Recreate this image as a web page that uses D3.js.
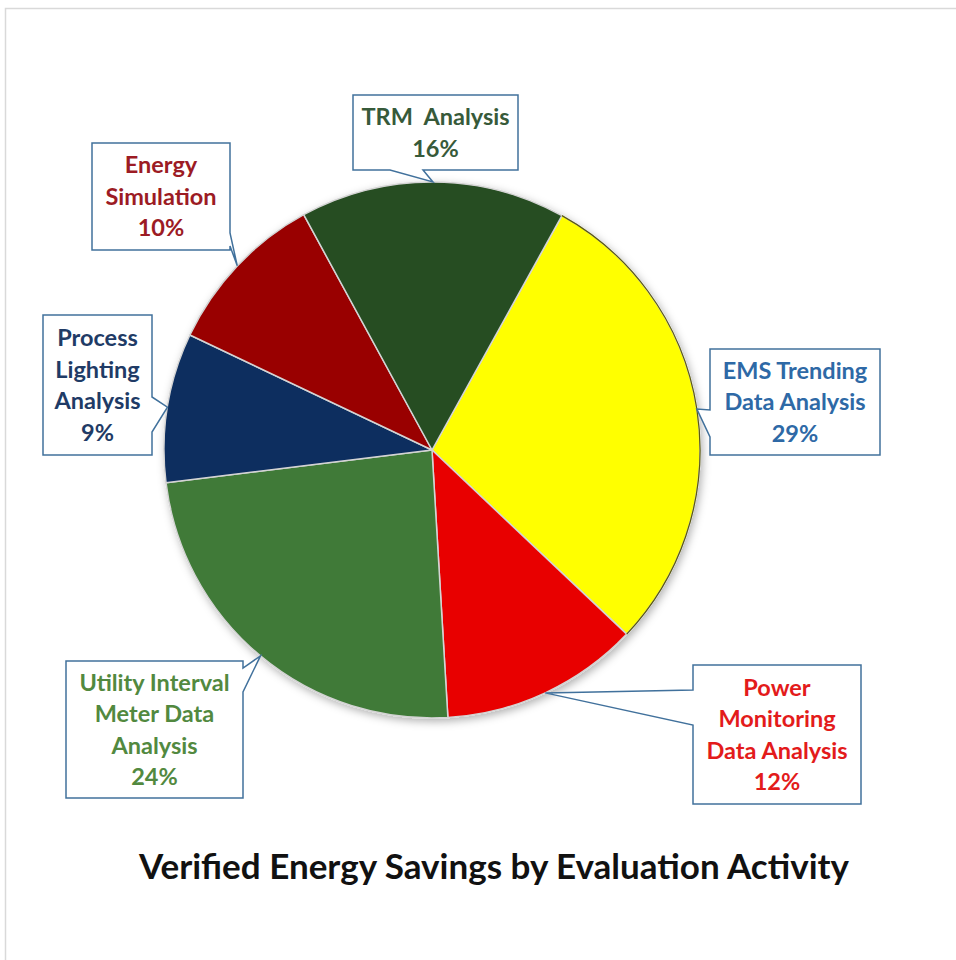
<!DOCTYPE html>
<html>
<head>
<meta charset="utf-8">
<script src="https://cdn.jsdelivr.net/npm/d3@7"></script>
<style>
    body { margin: 0; background: #fff; }
    svg { display: block; }
    text { font-family: Lato, "Open Sans", sans-serif; font-weight: bold; }
</style>
</head>
<body>
<svg id="drawing_region"></svg>
<script>
// data
const categories = ["EMS Trending Data Analysis", "Power Monitoring Data Analysis",
    "Utility Interval Meter Data Analysis", "Process Lighting Analysis",
    "Energy Simulation", "TRM Analysis"];
const shares = [29, 12, 24, 9, 10, 16];
const label_lines = [
    ["EMS Trending", "Data Analysis"],
    ["Power", "Monitoring", "Data Analysis"],
    ["Utility Interval", "Meter Data", "Analysis"],
    ["Process", "Lighting", "Analysis"],
    ["Energy", "Simulation"],
    ["TRM  Analysis"]
];
const chart_title = "Verified Energy Savings by Evaluation Activity";

// styles
const slice_colors = ["#ffff00", "#e80000", "#3f7a37", "#0c2d5e", "#990000", "#264d22"];
const text_colors = ["#2e69a6", "#e31b1b", "#52893f", "#1f3b66", "#9c1b24", "#375a3a"];

// callout boxes (layout)
const callouts = [
    { x: 710, y: 349, w: 170, h: 106, side: 'left',   base: [410, 437] },
    { x: 693, y: 665, w: 168, h: 139, side: 'left',   base: [690, 725] },
    { x: 66,  y: 661, w: 177, h: 137, side: 'right',  base: [668, 692] },
    { x: 43,  y: 315, w: 109, h: 140, side: 'right',  base: [397, 432] },
    { x: 92,  y: 143, w: 138, h: 107, side: 'right',  base: [233, 246] },
    { x: 353, y: 95,  w: 165, h: 75,  side: 'bottom', base: [390, 423] }
];

const config = {
    width: 956, height: 960,
    cx: 432, cy: 450, radius: 268,
    start: 29 * Math.PI / 180,
    line_height: 31.5
};

const svg = d3.select('#drawing_region')
    .attr('width', config.width)
    .attr('height', config.height);

// outer frame
svg.append('rect')
    .attr('x', 5.5).attr('y', 8.5)
    .attr('width', 960).attr('height', 960)
    .attr('fill', '#fff')
    .attr('stroke', '#d9d9d9')
    .attr('stroke-width', 1.5);

const defs = svg.append('defs');
const shadow = defs.append('filter').attr('id', 'shadow')
    .attr('x', '-10%').attr('y', '-10%').attr('width', '120%').attr('height', '120%');
shadow.append('feDropShadow')
    .attr('dx', 2).attr('dy', 3).attr('stdDeviation', 4)
    .attr('flood-color', '#000').attr('flood-opacity', 0.3);

const pie = d3.pie()
    .sort(null)
    .value(d => d)
    .startAngle(config.start)
    .endAngle(config.start + 2 * Math.PI);

const arc = d3.arc()
    .innerRadius(0)
    .outerRadius(config.radius);

const edge = d3.arc()
    .innerRadius(config.radius)
    .outerRadius(config.radius);

const arcs = pie(shares);

const chart = svg.append('g')
    .attr('transform', `translate(${config.cx}, ${config.cy})`);

chart.append('g')
    .attr('filter', 'url(#shadow)')
    .selectAll('path')
    .data(arcs)
    .enter()
    .append('path')
    .attr('d', arc)
    .attr('fill', (d, i) => slice_colors[i])
    .attr('stroke', '#d4d4d4')
    .attr('stroke-width', 1.5)
    .attr('stroke-linejoin', 'round');

// dark outline on the yellow slice's rim
chart.append('path')
    .attr('d', edge(arcs[0]))
    .attr('fill', 'none')
    .attr('stroke', '#5c5a10')
    .attr('stroke-width', 1.2);

// callout path: rectangle with a wedge pointing at the slice
function calloutPath(c, tip) {
    const x0 = c.x, y0 = c.y, x1 = c.x + c.w, y1 = c.y + c.h;
    const b = c.base.slice().sort((a, b) => a - b);
    const p = d3.path();
    p.moveTo(x0, y0);
    if (c.side === 'top') { p.lineTo(b[0], y0); p.lineTo(tip[0], tip[1]); p.lineTo(b[1], y0); }
    p.lineTo(x1, y0);
    if (c.side === 'right') { p.lineTo(x1, b[0]); p.lineTo(tip[0], tip[1]); p.lineTo(x1, b[1]); }
    p.lineTo(x1, y1);
    if (c.side === 'bottom') { p.lineTo(b[1], y1); p.lineTo(tip[0], tip[1]); p.lineTo(b[0], y1); }
    p.lineTo(x0, y1);
    if (c.side === 'left') { p.lineTo(x0, b[1]); p.lineTo(tip[0], tip[1]); p.lineTo(x0, b[0]); }
    p.closePath();
    return p.toString();
}

const labels = svg.append('g')
    .selectAll('.label')
    .data(arcs)
    .enter()
    .append('g')
    .attr('class', 'label');

labels.append('path')
    .attr('d', (d, i) => {
        const t = edge.centroid(d);
        return calloutPath(callouts[i], [t[0] + config.cx, t[1] + config.cy]);
    })
    .attr('fill', '#fff')
    .attr('stroke', '#41719c')
    .attr('stroke-width', 1.5)
    .attr('stroke-linejoin', 'miter');

labels.each(function (d, i) {
    const c = callouts[i];
    const lines = label_lines[i].concat([`${shares[i]}%`]);
    const top = c.y + c.h / 2 - (lines.length - 1) * config.line_height / 2;
    d3.select(this).selectAll('text')
        .data(lines)
        .enter()
        .append('text')
        .attr('x', c.x + c.w / 2)
        .attr('y', (l, j) => top + j * config.line_height)
        .attr('dy', '0.36em')
        .attr('text-anchor', 'middle')
        .attr('font-size', 23.5)
        .attr('fill', text_colors[i])
        .style('white-space', 'pre')
        .text(l => l);
});

svg.append('text')
    .attr('x', 494)
    .attr('y', 879)
    .attr('text-anchor', 'middle')
    .attr('font-size', 35)
    .attr('fill', '#111')
    .text(chart_title);
</script>
</body>
</html>
